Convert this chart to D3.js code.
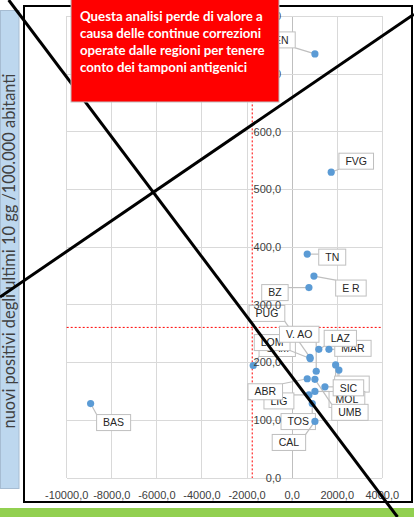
<!DOCTYPE html>
<html><head><meta charset="utf-8">
<script src="https://cdn.jsdelivr.net/npm/d3@7"></script>
<style>body{margin:0;background:#fff}svg{display:block}</style>
</head><body><svg id="c" width="414" height="517"></svg>
<script>
// ---- data ----
const regions = ["VEN","FVG","TN","E R","BZ","BAS","LAZ","MAR","PUG","LOM","V. AO","PIE","SAR","CAM","ABR","UMB","SIC","MOL","LIG","TOS","CAL"];
const xValues = [1011,1734,670,967,745,-8939,1184,1632,790,800,1069,1930,2076,-1726,670,1011,1455,1011,745,892,1011];
const yValues = [735,530,388,350,330,129,223,223,209,207,185,196,187,195,172,171,158,150,144,129,98];
const xTicks = [-10000,-8000,-6000,-4000,-2000,0,2000,4000];
const yTicks = [0,100,200,300,400,500,600,700,800];
const meanX = -1770, meanY = 261;
const yTitle = "nuovi positivi degli ultimi 10 gg /100.000 abitanti";
const noteLines = ["Questa analisi perde di valore a","causa delle continue correzioni","operate dalle regioni per tenere","conto dei tamponi antigenici"];

// ---- layout (label box offsets from point, px; z = drawing layer) ----
const labelLayout = {
  "VEN":[-37,-14,1],"FVG":[25,-11,1],"TN":[25,3,1],"E R":[37,12,1],"BZ":[-34,5,1],"BAS":[23,19,1],
  "LAZ":[21.5,-11,2],"MAR":[24,-1,1],"PUG":[-43,-44,1],"LOM":[-38,-16,1],"V. AO":[-17,-37,1],
  "PIE":[13,23,0],"SAR":[13,14,0],"CAM":[24,-17,0],"ABR":[-42,13,1],"UMB":[35,33,1],
  "SIC":[23.5,1,2],"MOL":[32,8,0],"LIG":[-30,6,0],"TOS":[-14,18,1],"CAL":[-26,21,1]
};

const svg = d3.select("#c");
const loc = d3.formatLocale({decimal:",",thousands:".",grouping:[3],currency:["",""],minus:"-"});
const fmt = loc.format(".1f");

const x = d3.scaleLinear().domain([-10000,4000]).range([66.7,382.3]);
const y = d3.scaleLinear().domain([0,800]).range([478,16.4]);

// green bar & side panel
svg.append("rect").attr("x",0).attr("y",508).attr("width",414).attr("height",9).attr("fill","#92d050");
svg.append("rect").attr("x",0.5).attr("y",10.5).attr("width",18.5).attr("height",478)
  .attr("fill","#bdd7ee").attr("stroke","#a6bcd2").attr("stroke-width",1);
// frame
svg.append("rect").attr("x",24).attr("y",6).attr("width",388).attr("height",496)
  .attr("fill","#fff").attr("stroke","#000").attr("stroke-width",2);

// axis title
const tt = svg.append("text").attr("transform","translate(14.5,251) rotate(-90)")
  .attr("text-anchor","middle").attr("font-family","Lato, 'Liberation Sans', sans-serif")
  .attr("font-size",13).attr("fill","#404040").text(yTitle);
{ const w = tt.node().getComputedTextLength(); tt.attr("font-size", 13*355/w); }

// grid
const g = svg.append("g");
g.selectAll(".vg").data(xTicks).join("line")
  .attr("x1",d=>x(d)).attr("x2",d=>x(d)).attr("y1",y(800)).attr("y2",y(0))
  .attr("stroke",d=>d===0?"#bfbfbf":"#d9d9d9").attr("stroke-width",1).attr("shape-rendering","crispEdges");
g.selectAll(".hg").data(yTicks).join("line")
  .attr("x1",x(-10000)).attr("x2",x(4000)).attr("y1",d=>y(d)).attr("y2",d=>y(d))
  .attr("stroke","#d9d9d9").attr("stroke-width",1).attr("shape-rendering","crispEdges");

// mean dashed lines
g.append("line").attr("x1",x(meanX)).attr("x2",x(meanX)).attr("y1",y(800)).attr("y2",y(0))
  .attr("stroke","#ff0000").attr("stroke-width",1).attr("stroke-dasharray","2,2");
g.append("line").attr("x1",x(-10000)).attr("x2",x(4000)).attr("y1",y(meanY)).attr("y2",y(meanY))
  .attr("stroke","#ff0000").attr("stroke-width",1).attr("stroke-dasharray","2,2");

// data
const data = regions.map((r,i)=>({name:r, xv:xValues[i], yv:yValues[i]}));

// labels
const lf = "'Liberation Sans', Arial, sans-serif";
const sorted = data.slice().sort((a,b)=>labelLayout[a.name][2]-labelLayout[b.name][2]);
const lg = svg.append("g");
sorted.forEach(d=>{
  const [dx,dy] = labelLayout[d.name];
  const px = x(d.xv), py = y(d.yv);
  const cx = px+dx, cy = py+dy;
  const grp = lg.append("g");
  const t = grp.append("text").attr("x",cx).attr("y",cy).attr("dy","0.35em").attr("text-anchor","middle")
    .attr("font-family",lf).attr("font-size",10.5).attr("fill","#262626").text(d.name);
  const w = t.node().getComputedTextLength()+13, h = 16;
  const x0 = cx-w/2, y0 = cy-h/2;
  const nx = Math.max(x0,Math.min(px,x0+w)), ny = Math.max(y0,Math.min(py,y0+h));
  grp.insert("line","text").attr("x1",px).attr("y1",py).attr("x2",nx).attr("y2",ny)
    .attr("stroke","#bfbfbf").attr("stroke-width",1.2);
  grp.insert("rect","text").attr("x",x0).attr("y",y0).attr("width",w).attr("height",h)
    .attr("fill","#fff").attr("stroke","#bfbfbf").attr("stroke-width",1);
});

// points
svg.append("g").selectAll("circle").data(data).join("circle")
  .attr("cx",d=>x(d.xv)).attr("cy",d=>y(d.yv)).attr("r",3.6).attr("fill","#5b9bd5");

// tick labels (on top, as in reference)
const tf = "'Liberation Sans', Arial, sans-serif";
const tl = svg.append("g");
tl.selectAll(".xl").data(xTicks).join("text")
  .attr("x",d=>x(d)).attr("y",499).attr("text-anchor","middle")
  .attr("font-family",tf).attr("font-size",11).attr("fill","#404040").text(d=>fmt(d));
tl.selectAll(".yl").data(yTicks).join("text")
  .attr("x",x(0)-11).attr("y",d=>y(d)).attr("dy","0.35em").attr("text-anchor","end")
  .attr("font-family",tf).attr("font-size",11).attr("fill","#404040").text(d=>fmt(d));

// big X
svg.append("line").attr("x1",8.7).attr("y1",0).attr("x2",397.5).attr("y2",517)
  .attr("stroke","#000").attr("stroke-width",3);
svg.append("line").attr("x1",414).attr("y1",14.3).attr("x2",0).attr("y2",297)
  .attr("stroke","#000").attr("stroke-width",3);

// red note box
svg.append("rect").attr("x",71).attr("y",-1).attr("width",208).attr("height",103)
  .attr("fill","#ff0000").attr("stroke","#c0c0c0").attr("stroke-width",1);
const nt = svg.append("g").selectAll("text").data(noteLines).join("text")
  .attr("x",80).attr("y",(d,i)=>20.7+i*17)
  .attr("font-family","Lato, 'Liberation Sans', sans-serif").attr("font-weight","bold")
  .attr("font-size",13).attr("fill","#fff").text(d=>d);
{ const w = nt.nodes()[0].getComputedTextLength(); nt.attr("font-size", 13*183/w); }
</script></body></html>
